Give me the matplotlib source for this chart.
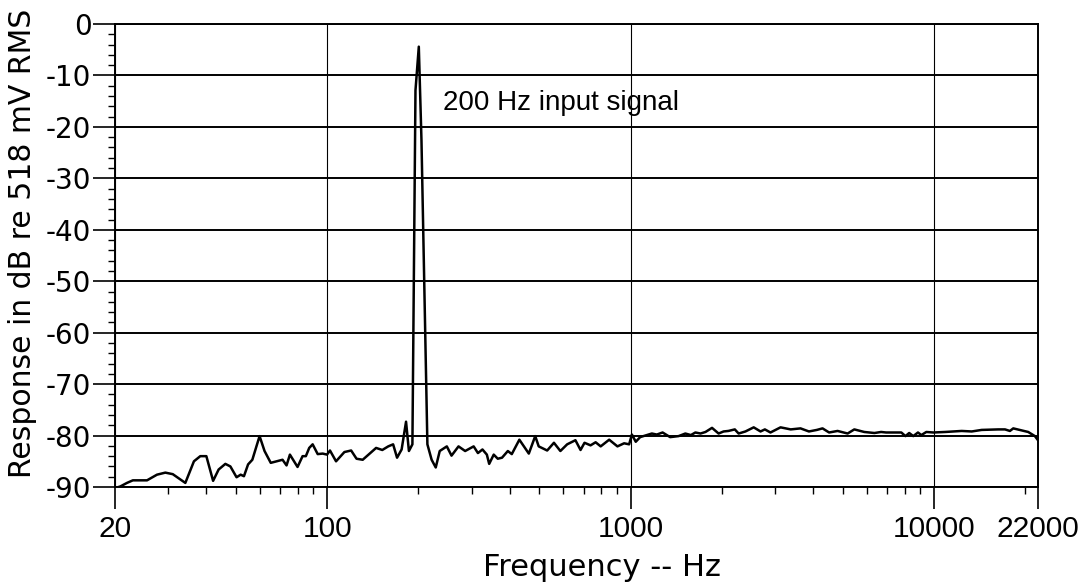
import numpy as np
import matplotlib.pyplot as plt
from matplotlib.ticker import FixedLocator, NullFormatter, MultipleLocator

# Tần số (Hz)
freq = [20, 20.8, 21.9, 22.9, 25.5, 27.5, 29.3, 31.0, 34.1, 36.4, 38.2, 40.0,
        42.1, 43.9, 46.2, 48.0, 50.3, 51.9, 53.2, 54.9, 56.7, 59.9, 62.2, 65.2,
        71.3, 73.5, 75.4, 79.9, 83.0, 85.1, 87.3, 89.6, 93.1, 96.7, 99.9, 102.2,
        107, 114, 120, 125, 131, 145, 152, 159, 165, 170, 176, 182, 186, 191,
        195.5, 200.5, 204.6, 214, 221, 228, 235, 248, 257, 271, 285, 304, 314,
        325, 336, 342, 354, 365, 377, 394, 406, 430, 462, 485, 498, 531, 559,
        587, 618, 658, 684, 705, 738, 767, 797, 850, 905, 952, 989, 1010, 1040,
        1075, 1130, 1175, 1220, 1275, 1350, 1440, 1515, 1580, 1635, 1700, 1765,
        1855, 1950, 2025, 2100, 2205, 2270, 2390, 2545, 2680, 2770, 2890, 3120,
        3370, 3630, 3870, 4110, 4290, 4510, 4810, 5190, 5460, 5890, 6360, 6690,
        6950, 7400, 7800, 8050, 8280, 8540, 8850, 9080, 9430, 9950, 10870, 12330,
        13310, 14350, 16270, 17130, 17780, 18240, 19430, 20430, 21490, 22000]

# Mức đáp ứng (dB)
level = [-90.2, -89.9, -89.2, -88.7, -88.7, -87.6, -87.2, -87.5, -89.2, -85.0,
         -84.0, -84.0, -88.8, -86.6, -85.5, -86.0, -88.1, -87.6, -87.9, -85.6,
         -84.7, -80.1, -83.0, -85.3, -84.7, -85.8, -83.7, -86.1, -84.0, -84.0,
         -82.4, -81.7, -83.6, -83.5, -83.7, -82.9, -85.0, -83.2, -82.9, -84.5,
         -84.7, -82.4, -82.8, -82.1, -81.7, -84.3, -82.7, -77.3, -83.0, -81.7,
         -12.9, -4.4, -22.6, -81.7, -84.7, -86.2, -83.0, -82.1, -83.9, -82.1,
         -83.0, -82.1, -83.4, -82.7, -83.7, -85.5, -83.7, -84.5, -84.3, -83.0,
         -83.6, -80.8, -83.5, -80.1, -82.1, -82.9, -81.4, -83.0, -81.7, -80.9,
         -82.8, -81.4, -81.9, -81.3, -82.1, -80.8, -82.1, -81.5, -81.7, -79.8,
         -81.2, -80.3, -79.9, -79.6, -79.8, -79.4, -80.3, -80.1, -79.6, -79.9,
         -79.4, -79.6, -79.3, -78.5, -79.6, -79.2, -79.1, -78.8, -79.6, -79.2,
         -78.4, -79.2, -78.8, -79.4, -78.4, -78.8, -78.6, -79.2, -78.9, -78.6,
         -79.4, -79.1, -79.6, -78.8, -79.3, -79.5, -79.3, -79.4, -79.4, -79.4,
         -80.1, -79.5, -80.1, -79.4, -79.9, -79.3, -79.4, -79.3, -79.1, -79.2,
         -78.9, -78.8, -78.8, -79.1, -78.6, -79.0, -79.3, -80.1, -80.9]

xticks = [20, 100, 1000, 10000, 22000]
xticklabels = ["20", "100", "1000", "10000", "22000"]
yticks = [0, -10, -20, -30, -40, -50, -60, -70, -80, -90]

fig = plt.figure(figsize=(10.87, 5.86), dpi=100)
ax = fig.add_axes([0.1058, 0.1689, 0.8491, 0.7901])

ax.plot(freq, level, color="black", lw=1.8)

ax.set_xscale("log")
ax.set_xlim(20, 22000)
ax.set_ylim(-90, 0)

# Trục x
ax.xaxis.set_major_locator(FixedLocator(xticks))
ax.set_xticklabels(xticklabels, fontsize=21.5, family="Liberation Sans")
minor_x = [m * 10 ** d for d in range(1, 5) for m in range(2, 10)
           if 20 < m * 10 ** d < 22000 and m * 10 ** d not in xticks]
ax.xaxis.set_minor_locator(FixedLocator(minor_x))
ax.xaxis.set_minor_formatter(NullFormatter())

# Trục y
ax.set_yticks(yticks)
ax.set_yticklabels([str(v) for v in yticks], fontsize=20, family="DejaVu Sans")
ax.yaxis.set_minor_locator(MultipleLocator(2))

ax.tick_params(axis="both", which="major", direction="out", length=16, width=1.2)
ax.tick_params(axis="both", which="minor", direction="out", length=5, width=1)
ax.tick_params(axis="x", which="major", pad=4)
ax.tick_params(axis="y", which="major", pad=1)

# Lưới
ax.grid(axis="y", which="major", color="black", lw=1.4)
ax.grid(axis="x", which="major", color="black", lw=0.8)
for s in ax.spines.values():
    s.set_linewidth(1.4)

ax.text(240, -15.4, "200 Hz input signal", fontsize=20, family="Liberation Sans",
        va="center", ha="left")

ax.set_xlabel("Frequency -- Hz", fontsize=22, family="DejaVu Sans")
ax.xaxis.set_label_coords(0.528, -0.143)
ax.set_ylabel("Response in dB re 518 mV RMS", fontsize=21.5, family="DejaVu Sans")
ax.yaxis.set_label_coords(-0.084, 0.527)

fig.savefig("out.png", dpi=100)
